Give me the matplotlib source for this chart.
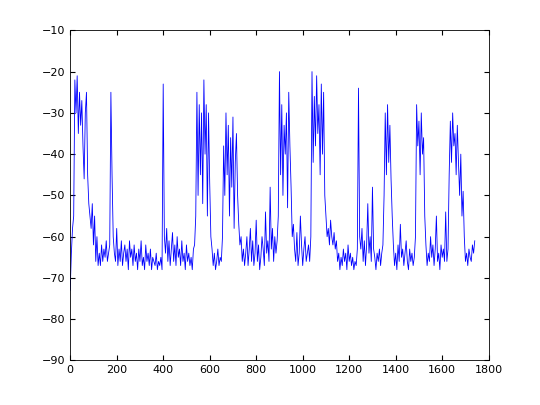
import matplotlib
matplotlib.use("Agg")
import matplotlib.pyplot as plt

step = 5
s01 = [-73,-64,-58,-55]
s02 = [-22,-30,-21,-35,-25,-33,-27,-38,-46,-30,-25,-45]
s03 = [-52,-55,-58,-52,-62,-55,-66,-60,-67,-64]
s04 = [-67,-62,-66,-63,-65,-61,-66,-64,-62]
s05 = [-25,-45,-60]
s06 = [-64,-66,-58,-67,-63,-66,-61,-67,-64,-62,-66,-63,-68,-61,-65,-63,-67,-62,-66,-64,-68,-63,-66,-61,-67,-65,-68,-62,-66,-64,-67,-63,-68,-65,-66,-67,-64,-68,-66,-67,-65,-68]
s07 = [-23,-60]
s08 = [-64,-58,-66,-61,-67,-63,-59,-66,-62,-67,-60,-65,-63,-67,-61,-66,-64,-68,-62,-66,-64,-67,-65,-68,-63,-62]
s09 = [-55,-25,-50,-28,-45,-30,-52,-22,-40,-28,-55,-30,-47,-60]
s10 = [-63,-67,-64,-68,-66,-63,-67,-65,-66,-60]
s11 = [-38,-50,-30,-45,-33,-55,-36,-48,-31,-58,-42,-35,-50,-57,-62,-60]
s12 = [-66,-63,-67,-64,-60,-67,-63,-58,-66,-61,-67,-64,-56,-66,-62,-68,-65,-60,-63,-67,-54,-64,-61,-66,-48,-63,-58,-66,-60,-64,-61,-55]
s13 = [-20,-45,-28,-50,-33,-40,-30,-53,-25,-38,-48,-60]
s14 = [-57,-63,-66,-59,-67,-64,-55,-62,-67,-63,-60,-66,-64,-62,-66,-60]
s15 = [-20,-42,-26,-38,-21,-35,-28,-45,-23,-40,-25,-50]
s16 = [-55,-60,-58,-62,-56,-60,-62,-59,-63,-61,-66,-64,-68,-65,-67,-63,-66,-64,-68,-62,-66,-64,-67,-65,-68,-66,-67,-63]
s17 = [-24]
s18 = [-60,-63,-58,-66,-61,-67,-62,-52,-64,-60,-66,-48,-63,-65,-68,-64,-66,-63,-67,-64,-62]
s19 = [-50,-30,-45,-28,-42,-33,-46,-55]
s20 = [-62,-67,-64,-68,-62,-66,-57,-65,-63,-67,-64,-61,-66,-68,-63,-66,-64,-67,-65,-60]
s21 = [-28,-38,-32,-45,-30,-40,-36,-55]
s22 = [-62,-67,-64,-66,-60,-65,-62,-67,-63,-55,-66,-64,-68,-62,-65,-63,-66,-54,-66,-63]
s23 = [-45,-32,-42,-30,-38,-35,-45,-33,-42,-50,-40,-55,-49,-60]
s24 = [-66,-64,-67,-63,-65,-66,-62,-64,-61]
values = (s01 + s02 + s03 + s04 + s05 + s06 + s07 + s08 + s09 + s10 + s11 + s12
          + s13 + s14 + s15 + s16 + s17 + s18 + s19 + s20 + s21 + s22 + s23 + s24)
xs = [i * step for i in range(len(values))]

fig = plt.figure(figsize=(5.4, 4.05), dpi=100)
ax = fig.add_axes([0.13, 0.11, 0.775, 0.815])
ax.plot(xs, values, color='#0000ff', linewidth=0.6)
ax.set_xlim(0, 1800)
ax.set_ylim(-90, -10)
ax.set_xticks(range(0, 1801, 200))
ax.set_yticks(range(-90, -9, 10))
ax.tick_params(direction='in', labelsize=8, top=True, right=True)
for s in ax.spines.values():
    s.set_linewidth(0.6)
fig.savefig("out.png")
